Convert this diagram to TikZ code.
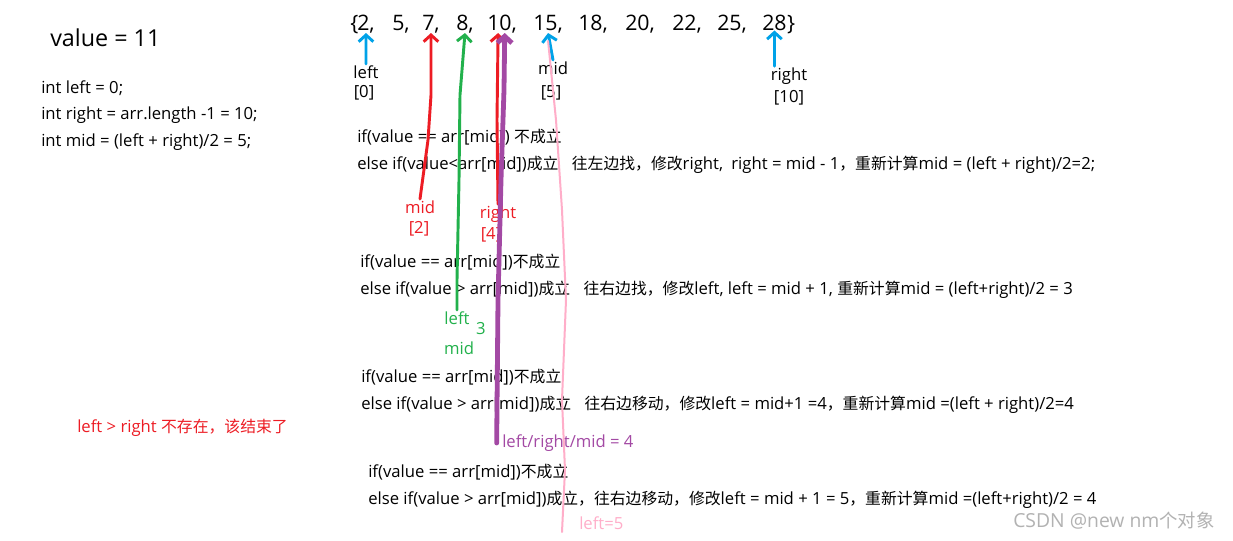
\documentclass[tikz,border=0pt]{standalone}
\usepackage{fontspec}
\setmainfont{Open Sans}
\newfontfamily\cjk[Scale=0.95]{Noto Sans CJK SC}
\usetikzlibrary{arrows.meta,positioning}
\definecolor{pred}{RGB}{237,28,36}
\definecolor{pgreen}{RGB}{34,177,76}
\definecolor{pblue}{RGB}{0,162,232}
\definecolor{ppurple}{RGB}{163,73,164}
\definecolor{ppink}{RGB}{255,174,201}
\newcommand{\zh}[1]{{\cjk #1}}

\begin{document}
\begin{tikzpicture}[x=0.75pt,y=-0.75pt,
  txt/.style={anchor=west,inner sep=0pt,font=\fontsize{12.5}{14}\selectfont},
  lbl/.style={inner sep=1pt,font=\fontsize{12.5}{14}\selectfont},
  big/.style={anchor=base west,inner sep=0pt,font=\fontsize{16}{18}\selectfont},
  pen/.style={line width=2.2pt,line cap=round,line join=round},
  penarrow/.style={pen,-{Straight Barb[length=5pt,width=11pt]}}]
\fill[white] (0,0) rectangle (1233,540);
\useasboundingbox (0,0) rectangle (1233,540);

% start values
\node[big,font=\fontsize{17.5}{20}\selectfont] (val) at (50,46) {value = 11};
\node[txt] (c1) at (41,88) {int left = 0;};
\node[txt] (c2) at (41,115) {int right = arr.length -1 = 10;};
\node[txt] (c3) at (41,142) {int mid = (left + right)/2 = 5;};

% the array
\node[big] (lb) at (350,30) {\{};
\foreach \v/\x [count=\i from 0] in {2/357,5/392,7/422,8/456,10/487,15/533,18/578,20/625,22/672,25/717}
  \node[big] (e\i) at (\x,30) {\v,};
\node[big] (e10) at (762,30) {28};
\node[big] (rb) at (e10.base east) {\}};

% first pointers
\node[lbl] (l0) at (366,72) {left};
\node[lbl] (l0i) at (364,93) {[0]};
\node[lbl] (m5) at (553,68) {mid};
\node[lbl] (m5i) at (551,93) {[5]};
\node[lbl] (r10) at (789,76) {right};
\node[lbl] (r10i) at (789,98) {[10]};

% steps
\node[txt] (a1) at (357,137) {if(value == arr[mid]) \zh{不成立}};
\node[txt] (a2) at (357,165) {else if(value<arr[mid])\zh{成立}\hspace{0.8em}\zh{往左边找，修改}right,\hspace{0.5em}right = mid - 1\zh{，重新计算}mid = (left + right)/2=2;};
\node[txt] (b1) at (360,262) {if(value == arr[mid])\zh{不成立}};
\node[txt] (b2) at (360,290) {else if(value > arr[mid])\zh{成立}\hspace{0.8em}\zh{往右边找，修改}left, left = mid + 1, \zh{重新计算}mid = (left+right)/2 = 3};
\node[txt] (d1) at (361,377) {if(value == arr[mid])\zh{不成立}};
\node[txt] (d2) at (361,405) {else if(value > arr[mid])\zh{成立}\hspace{0.8em}\zh{往右边移动，修改}left = mid+1 =4\zh{，重新计算}mid =(left + right)/2=4};
\node[txt] (f1) at (368,472) {if(value == arr[mid])\zh{不成立}};
\node[txt] (f2) at (368,500) {else if(value > arr[mid])\zh{成立，往右边移动，修改}left = mid + 1 = 5\zh{，重新计算}mid =(left+right)/2 = 4};

% labels of the moves
\node[lbl,pred] (m2) at (420,207) {mid};
\node[lbl,pred] (m2i) at (419,229) {[2]};
\node[lbl,pred] (r4) at (498,214) {right};
\node[lbl,pred] (r4i) at (491,235) {[4]};
\node[lbl,pgreen] (l3) at (457,318) {left};
\node[lbl,pgreen] (n3) at (481,329) {3};
\node[lbl,pgreen] (m3) at (459,348) {mid};
\node[txt,ppurple] (lrm) at (502,443) {left/right/mid = 4};
\node[txt,ppink] (l5) at (579,523) {left=5};
\node[txt,pred] (endnote) at (77,428) {left > right \zh{不存在，该结束了}};
\node[txt,gray!60,font=\fontsize{14.5}{16}\selectfont] (wm) at (1013,521) {CSDN @new nm\zh{个对象}};

% pen strokes
\draw[penarrow,pblue] (l0.north) -- (e0.south);
\draw[penarrow,pblue] (m5.north) -- (e5.south);
\draw[penarrow,pblue] (r10.north -| e10.south) -- (e10.south);
\draw[penarrow,pred] (m2.north) -- (428,140) -- (431,95) -- (e2.south);
\draw[penarrow,pred] (r4.north) -- (497,120) -- ([xshift=-3pt]e4.south);
\draw[penarrow,pgreen] (l3.north) -- (457,280) -- (459,180) -- (460,95) -- (e3.south);
\draw[penarrow,ppurple,line width=3.6pt] ([xshift=-4pt]lrm.west) -- (498,300) -- (501,180) -- (504,90) -- ([xshift=2pt]e4.south);
\coordinate (p0) at (562,532);
\draw[pen,ppink,line width=1.5pt] (p0) -- (565,470) -- (562,400) -- (566,300) -- (562,210) -- (556,120) -- ([yshift=-6pt]e5.south);
\end{tikzpicture}
\end{document}
